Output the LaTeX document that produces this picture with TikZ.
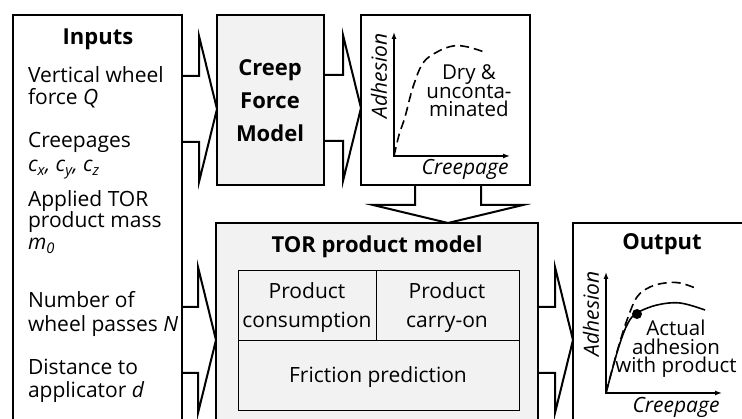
\documentclass[tikz,border=0pt]{standalone}
\usepackage{fontspec}
\setmainfont{Open Sans}
\usetikzlibrary{calc,arrows.meta}
\definecolor{boxgray}{HTML}{F2F2F2}
\newcommand\tfont{\fontsize{21}{22}\selectfont}
\newcommand\bfont{\fontsize{22}{33}\selectfont\bfseries}
\newcommand\gfont{\fontsize{20.5}{18.5}\selectfont}
\newcommand\rarrow[3]{%
  \coordinate (s) at (#1.east |- 0,#3);
  \coordinate (t) at (#2.west |- 0,#3);
  \draw[barrow] ($(s)+(0,-33)$) -- ($(t)+(-18,-33)$) -- ($(t)+(-18,-73)$) -- (t)
     -- ($(t)+(-18,73)$) -- ($(t)+(-18,33)$) -- ($(s)+(0,33)$);
}
\begin{document}
\begin{tikzpicture}[x=1pt,y=-1pt,
  every node/.style={inner sep=0pt, outer sep=0pt, font=\tfont},
  frame/.style={draw, line width=2pt, anchor=north west},
  grayframe/.style={frame, fill=boxgray},
  cell/.style={draw, line width=1pt, fill=boxgray, anchor=north west},
  barrow/.style={draw, line width=2pt, line join=miter},
  axis/.style={line width=1.3pt, {Latex[length=7pt,width=5pt]}-{Latex[length=7pt,width=5pt]}},
  dcurve/.style={line width=1.6pt, dash pattern=on 9pt off 5pt},
  scurve/.style={line width=1.6pt},
  lbl/.style={anchor=base},
  lline/.style={anchor=base west},
  gtext/.style={align=center, font=\gfont}]
\path[use as bounding box] (0,0) rectangle (742,419);
\clip (0,0) rectangle (742,419);

% boxes
\node[frame, minimum width=169pt, minimum height=440pt] (inputs) at (13,15) {};
\node[grayframe, minimum width=107pt, minimum height=170pt] (cfm) at (217,15) {};
\node[frame, minimum width=169pt, minimum height=170pt] (graph1) at (361,15) {};
\node[grayframe, minimum width=322pt, minimum height=250pt] (tor) at (216,223) {};
\node[frame, minimum width=200pt, minimum height=250pt] (output) at (573,223) {};
\node[cell, minimum width=138pt, minimum height=70pt] (cons) at (238,271) {};
\node[cell, minimum width=143pt, minimum height=70pt] (carry) at (376,271) {};
\node[cell, minimum width=281pt, minimum height=70pt] (fric) at (238,341) {};

% block arrows
\rarrow{inputs}{cfm}{109}
\rarrow{cfm}{graph1}{108}
\rarrow{inputs}{tor}{340}
\rarrow{tor}{output}{340}
\coordinate (ds) at (448,0 |- graph1.south);
\coordinate (dt) at (448,0 |- tor.north);
\draw[barrow] ($(ds)+(-33,0)$) -- ($(dt)+(-33,-18)$) -- ($(dt)+(-75,-18)$) -- (dt)
   -- ($(dt)+(75,-18)$) -- ($(dt)+(33,-18)$) -- ($(ds)+(33,0)$);

% inputs text
\node[lbl, font=\bfont] at (98,45) {Inputs};
\node[lline] at (28,83) {Vertical wheel};
\node[lline] at (28,105) {force \textit{Q}};
\node[lline] at (28,148) {Creepages};
\node[lline] at (28,172) {\textit{c\textsubscript{x}, c\textsubscript{y}, c\textsubscript{z}}};
\node[lline] at (28,207) {Applied TOR};
\node[lline] at (28,228) {product mass};
\node[lline] at (28,250) {\textit{m\textsubscript{0}}};
\node[lline] at (28,308) {Number of};
\node[lline] at (28,332) {wheel passes \textit{N}};
\node[lline] at (28,375) {Distance to};
\node[lline] at (28,398) {applicator \textit{d}};

% creep force model
\node[lbl, font=\bfont] at (270,76) {Creep};
\node[lbl, font=\bfont] at (270,109) {Force};
\node[lbl, font=\bfont] at (270,142) {Model};

% graph 1
\coordinate (o1) at (394,156);
\coordinate (y1) at (394,32);
\coordinate (x1) at (510,156);
\draw[axis] (y1) -- (o1) -- (x1);
\draw[dcurve] plot[smooth, tension=0.6] coordinates {(394,156) (399,135) (405,117) (413,87) (423,63) (437,52) (453,46) (468,47) (487,53)};
\node[rotate=90, font=\tfont\itshape] at (379,76) {Adhesion};
\node[lbl, font=\tfont\itshape] at (465,175) {Creepage};
\node[gtext] (dry) at (469,91) {Dry \&\\unconta-\\minated};

% TOR product model
\node[lbl, font=\bfont] at (377,253) {TOR product model};
\node[lbl] at (307,299) {Product};
\node[lbl] at (307,328) {consumption};
\node[lbl] at (447,299) {Product};
\node[lbl] at (447,328) {carry-on};
\node[lbl] at (378,383) {Friction prediction};

% output
\node[lbl, font=\bfont] at (662,250) {Output};
\coordinate (o2) at (606,393);
\coordinate (y2) at (606,272);
\coordinate (x2) at (722,393);
\draw[axis] (y2) -- (o2) -- (x2);
\draw[dcurve] plot[smooth, tension=0.6] coordinates {(606,393) (612,370) (619,345) (627,320) (637,297) (650,287) (665,283) (680,283) (698,289)};
\draw[scurve] plot[smooth, tension=0.6] coordinates {(606,393) (613,367) (620,343) (628,323) (637,313) (657,305) (680,303) (705,310)};
\node[circle, fill=black, minimum size=10pt] (pt) at (637,314) {};
\node[rotate=90, font=\tfont\itshape] at (591,314) {Adhesion};
\node[lbl, font=\tfont\itshape] at (676,413) {Creepage};
\node[gtext] (act) at (676,349) {Actual\\adhesion\\with product};
\end{tikzpicture}
\end{document}
